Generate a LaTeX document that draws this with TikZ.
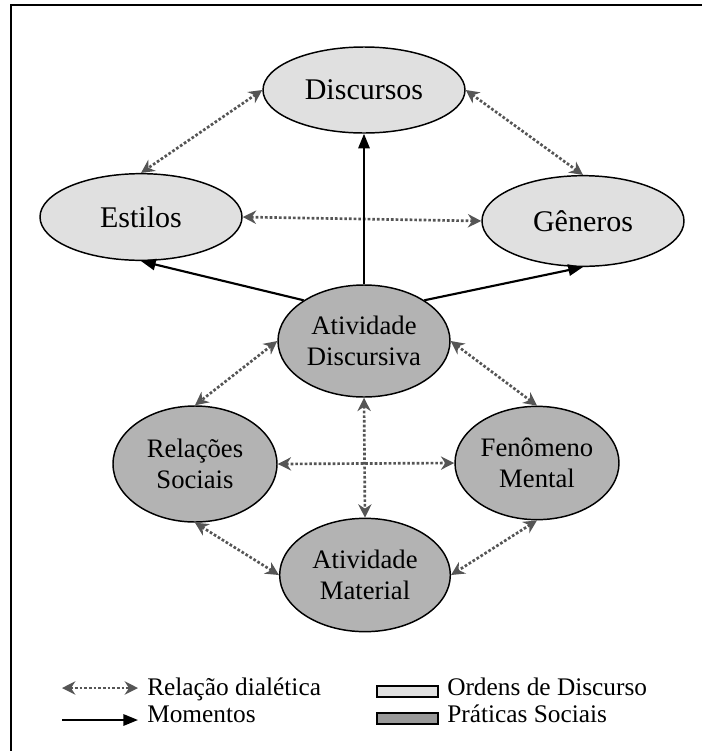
\documentclass[tikz,border=0pt]{standalone}
\usepackage{fontspec}
\setmainfont{Liberation Serif}
\usetikzlibrary{shapes.geometric,arrows.meta}
\definecolor{cinzaclaro}{HTML}{E0E0E0}
\definecolor{cinzaescuro}{HTML}{B3B3B3}
\definecolor{cinzalegenda}{HTML}{999999}
\definecolor{cinzaseta}{HTML}{555555}
\tikzset{
	ordem/.style={ellipse,draw,line width=1.1pt,fill=cinzaclaro,inner sep=0pt,minimum width=151.5pt,minimum height=65pt,font=\fontsize{22.5}{26}\selectfont},
	pratica/.style={ellipse,draw,line width=1.1pt,fill=cinzaescuro,inner sep=0pt,align=center,font=\fontsize{20}{23}\selectfont},
	dialetica/.style={cinzaseta,line width=2pt,dash pattern=on 2pt off 1.5pt,{Stealth[length=10pt,width=10pt]}-{Stealth[length=10pt,width=10pt]}},
	momento/.style={line width=1.6pt,-{Triangle[length=11pt,width=8.5pt]}},
	legenda/.style={anchor=base west,inner sep=0pt,font=\fontsize{19}{22}\selectfont}
}
\begin{document}
\begin{tikzpicture}[x=0.75pt,y=-0.75pt]
		\useasboundingbox (0,0) rectangle (702,751);
		\clip (0,0) rectangle (702,751);
		\draw[line width=1.5pt] (11,4.5) rectangle (760,800);
		
		% ordens de discurso
		\node[ordem,minimum height=64.5pt] (disc) at (364,90) {Discursos};
		\node[ordem] (est) at (141,217) {Estilos};
		\node[ordem,minimum height=68pt] (gen) at (583,221) {Gêneros};
		
		% praticas sociais
		\node[pratica,minimum width=129pt,minimum height=84pt] (ad) at (364,341) {Atividade\\Discursiva};
		\node[pratica,minimum width=123pt,minimum height=87pt] (rs) at (195,464) {Relações\\Sociais};
		\node[pratica,minimum width=123pt,minimum height=85pt] (fm) at (537,463) {Fenômeno\\Mental};
		\node[pratica,minimum width=128pt,minimum height=85pt] (am) at (365,575) {Atividade\\Material};
		
		\foreach \a/\b in {disc.west/est.north, disc.east/gen.north, est.east/gen.west, ad.west/rs.north, ad.east/fm.north, rs.east/fm.west, ad.south/am.north, rs.south/am.west, fm.south/am.east}{
			\draw[dialetica] (\a) -- (\b);
		}
		\draw[momento] (ad.north) -- (disc.south);
		\draw[momento] (ad.146) -- (est.south);
		\draw[momento] (ad.34) -- (gen.south);
		
		% legenda
		\coordinate (l1a) at (62,688);
		\coordinate (l1b) at (138,688);
		\coordinate (l2a) at (62,720);
		\coordinate (l2b) at (138,720);
		\draw[dialetica] (l1a) -- (l1b);
		\draw[momento] (l2a) -- (l2b);
		\node[legenda] (txtdial) at (147,695) {Relação dialética};
		\node[legenda] (txtmom) at (147,722) {Momentos};
		\draw[line width=1.1pt,fill=cinzaclaro] (377,686) rectangle (438,697);
		\draw[line width=1.1pt,fill=cinzalegenda] (377,713) rectangle (438,724);
		\node[legenda] (txtord) at (447,695) {Ordens de Discurso};
		\node[legenda] (txtprat) at (447,722) {Práticas Sociais};
\end{tikzpicture}
\end{document}
